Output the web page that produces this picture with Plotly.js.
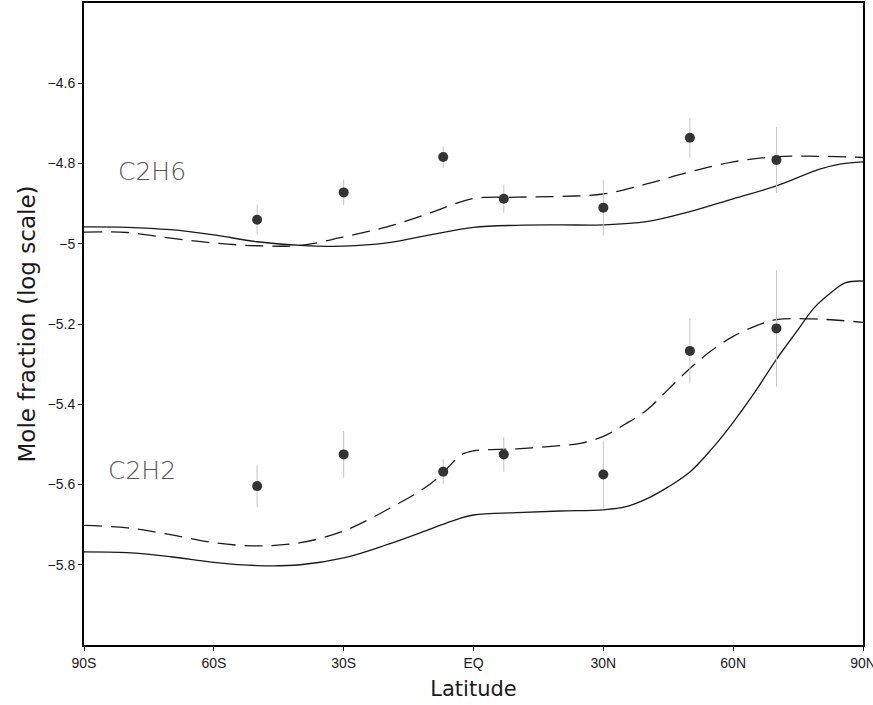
<!DOCTYPE html>
<html>
<head>
<meta charset="utf-8">
<script src="https://cdn.plot.ly/plotly-3.0.1.min.js"></script>
<style>html,body{margin:0;padding:0;background:#fff;}#chart{width:873px;height:705px;}</style>
</head>
<body>
<div id="chart"></div>
<script>
// Observation latitudes and values (log10 mole fraction)
var obsLat = [-50, -30, -7, 7, 30, 50, 70];
var c2h6Obs = [-4.940, -4.872, -4.784, -4.888, -4.910, -4.736, -4.791];
var c2h6Err = [0.037, 0.032, 0.027, 0.035, 0.070, 0.050, 0.082];
var c2h2Obs = [-5.604, -5.525, -5.568, -5.525, -5.575, -5.267, -5.211];
var c2h2Err = [0.052, 0.058, 0.031, 0.043, 0.084, 0.081, 0.145];

// Model curves
var c2h6SolidLat = [-90, -80, -70, -60, -50, -40, -30, -20, -10, 0, 10, 20, 30, 40, 50, 60, 70, 80, 85, 90];
var c2h6Solid = [-4.958, -4.959, -4.965, -4.978, -4.995, -5.004, -5.006, -4.998, -4.978, -4.959, -4.954, -4.953, -4.953, -4.945, -4.920, -4.888, -4.856, -4.814, -4.801, -4.796];

var c2h6DashLat = [-90, -80, -70, -60, -50, -40, -30, -20, -10, -5, 0, 10, 20, 30, 40, 50, 60, 70, 80, 90];
var c2h6Dash = [-4.971, -4.972, -4.986, -4.998, -5.005, -5.004, -4.983, -4.958, -4.923, -4.903, -4.887, -4.884, -4.882, -4.876, -4.851, -4.821, -4.796, -4.783, -4.782, -4.785];

var c2h2DashLat = [-90, -80, -70, -60, -50, -40, -30, -20, -10, -6, -3, 0, 10, 20, 25, 30, 35, 40, 45, 50, 55, 60, 65, 70, 80, 90];
var c2h2Dash = [-5.702, -5.708, -5.725, -5.745, -5.753, -5.745, -5.716, -5.663, -5.599, -5.559, -5.527, -5.516, -5.511, -5.503, -5.497, -5.480, -5.450, -5.415, -5.363, -5.311, -5.266, -5.231, -5.206, -5.189, -5.188, -5.196];

var c2h2SolidLat = [-90, -80, -70, -60, -50, -40, -30, -20, -10, -5, 0, 10, 20, 30, 35, 40, 45, 50, 55, 60, 65, 70, 75, 78.6, 82, 86, 90];
var c2h2Solid = [-5.768, -5.770, -5.780, -5.794, -5.802, -5.800, -5.783, -5.750, -5.711, -5.691, -5.676, -5.670, -5.666, -5.663, -5.656, -5.636, -5.606, -5.569, -5.512, -5.445, -5.370, -5.288, -5.214, -5.161, -5.127, -5.097, -5.093];

var xTickVals = [-90, -60, -30, 0, 30, 60, 90];
var xTickText = ['90S', '60S', '30S', 'EQ', '30N', '60N', '90N'];
var yTickVals = [-4.6, -4.8, -5, -5.2, -5.4, -5.6, -5.8];
var yTickText = ['\u22124.6', '\u22124.8', '\u22125', '\u22125.2', '\u22125.4', '\u22125.6', '\u22125.8'];

var lineCol = '#1a1a1a';
var dashPat = '18px,9px';

function curve(x, y, dash) {
  return {x: x, y: y, type: 'scatter', mode: 'lines',
    line: {color: lineCol, width: 1.3, dash: dash, shape: 'spline', smoothing: 1},
    hoverinfo: 'skip', showlegend: false};
}
function obs(y, e) {
  return {x: obsLat, y: y, type: 'scatter', mode: 'markers',
    marker: {color: '#333333', size: 10},
    error_y: {type: 'data', array: e, visible: true, color: '#c4c4c4', thickness: 1, width: 0},
    showlegend: false};
}

var data = [
  curve(c2h6SolidLat, c2h6Solid, 'solid'),
  curve(c2h6DashLat, c2h6Dash, dashPat),
  curve(c2h2SolidLat, c2h2Solid, 'solid'),
  curve(c2h2DashLat, c2h2Dash, dashPat),
  obs(c2h6Obs, c2h6Err),
  obs(c2h2Obs, c2h2Err)
];

var tickFont = {family: 'Liberation Sans, Arial, sans-serif', size: 14, color: '#1a1a1a'};

var layout = {
  width: 873, height: 705,
  margin: {l: 84, r: 10, t: 3, b: 60},
  paper_bgcolor: '#fff', plot_bgcolor: '#fff',
  xaxis: {
    range: [-90, 90], tickmode: 'array', tickvals: xTickVals, ticktext: xTickText,
    showgrid: false, zeroline: false, showline: true, mirror: true, linecolor: '#000', linewidth: 2,
    ticks: 'outside', ticklen: 4, tickcolor: '#000', tickfont: tickFont, ticklabeloverflow: 'allow',
    title: {text: 'Latitude', font: {family: 'DejaVu Sans, sans-serif', size: 21, color: '#1a1a1a'}, standoff: 12}
  },
  yaxis: {
    range: [-6.0, -4.4], tickmode: 'array', tickvals: yTickVals, ticktext: yTickText,
    showgrid: false, zeroline: false, showline: true, mirror: true, linecolor: '#000', linewidth: 2,
    ticks: 'outside', ticklen: 4, tickcolor: '#000', tickfont: tickFont,
    title: {text: 'Mole fraction (log scale)', font: {family: 'DejaVu Sans, sans-serif', size: 23, color: '#1a1a1a'}, standoff: 6}
  },
  annotations: [
    {x: -74.4, y: -4.819, xref: 'x', yref: 'y', text: 'C2H6', showarrow: false,
     font: {family: 'DejaVu Sans, sans-serif', size: 25, color: '#555', weight: 200}},
    {x: -76.7, y: -5.564, xref: 'x', yref: 'y', text: 'C2H2', showarrow: false,
     font: {family: 'DejaVu Sans, sans-serif', size: 25, color: '#555', weight: 200}}
  ]
};

Plotly.newPlot('chart', data, layout, {displayModeBar: false, staticPlot: true});
</script>
</body>
</html>
